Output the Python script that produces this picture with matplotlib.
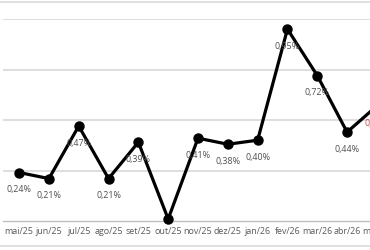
import matplotlib
matplotlib.use("Agg")
import matplotlib.pyplot as plt
from matplotlib.lines import Line2D

months = ["mai/25", "jun/25", "jul/25", "ago/25", "set/25", "out/25", "nov/25",
          "dez/25", "jan/26", "fev/26", "mar/26", "abr/26", "mai/26"]
values = [0.24, 0.21, 0.47, 0.21, 0.39, 0.01, 0.41, 0.38, 0.40, 0.95, 0.72, 0.44, 0.57]
labels = ["0,24%", "0,21%", "0,47%", "0,21%", "0,39%", None, "0,41%", "0,38%",
          "0,40%", "0,95%", "0,72%", "0,44%", "0,57%"]

plt.rcParams['font.family'] = ['Open Sans', 'DejaVu Sans']

fig = plt.figure(figsize=(3.7, 2.5), dpi=100)
W, H = 370, 250
left_px, bottom_px, top_px = 3, 221, 19
ax = fig.add_axes([left_px / W, (H - bottom_px) / H, 390 / W, (bottom_px - top_px) / H])

x = list(range(len(months)))
ax.plot(x, values, color="black", lw=2.3, marker="o", ms=6.5, zorder=3, clip_on=False)

for i, (v, lab) in enumerate(zip(values, labels)):
    if lab is None:
        continue
    col = "#c0504d" if i == len(values) - 1 else "#505050"
    ax.annotate(lab, (i, v), xytext=(0, -12.5), textcoords="offset points",
                ha="center", va="center", fontsize=6.4, color=col)

ax.set_xlim(-0.54, 12.54)
ax.set_ylim(0, 1.0)
ax.set_yticks([0.25, 0.5, 0.75, 1.0])
ax.yaxis.grid(True, color="#dedede", lw=1.4)
ax.set_axisbelow(True)
ax.tick_params(axis="y", left=False, labelleft=False)
ax.set_xticks(x)
ax.set_xticklabels(months, fontsize=6.4, color="#595959")
ax.tick_params(axis="x", length=0, pad=4)
for s in ["top", "right", "left"]:
    ax.spines[s].set_visible(False)
ax.spines["bottom"].set_color("#bfbfbf")
ax.spines["bottom"].set_linewidth(1.0)

fig.add_artist(Line2D([0, 1], [(H - 2) / H] * 2, color="#d9d9d9", lw=1.2))
fig.add_artist(Line2D([0, 1], [(H - 246) / H] * 2, color="#d9d9d9", lw=1.2))

fig.savefig("out.png", dpi=100)
